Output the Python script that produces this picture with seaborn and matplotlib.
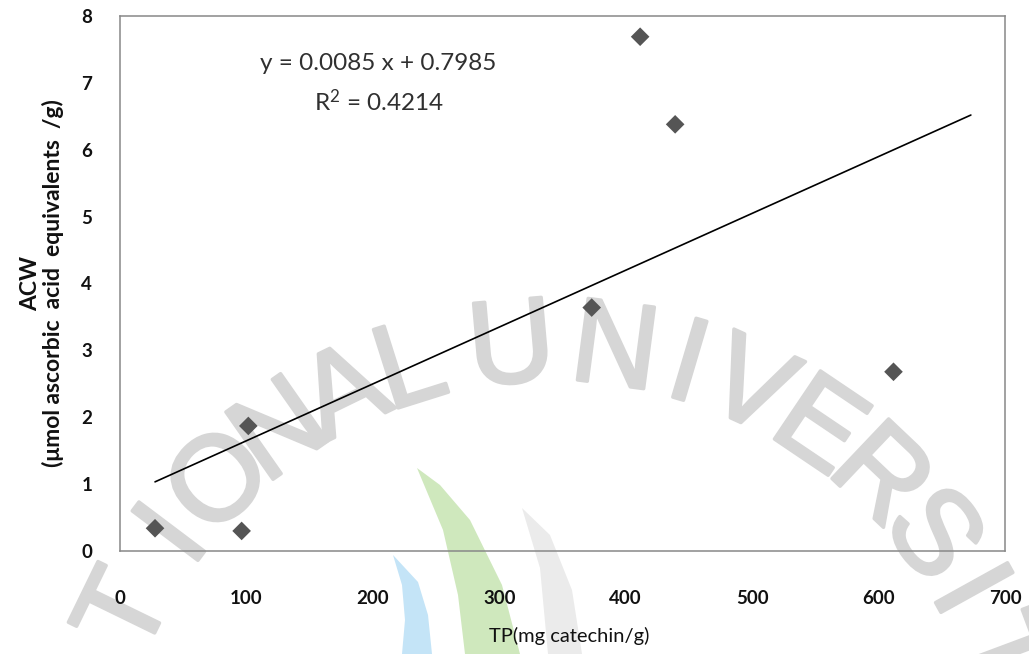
import numpy as np
import pandas as pd
import matplotlib
matplotlib.use("Agg")
import matplotlib.pyplot as plt
from matplotlib.patches import Polygon
import matplotlib.patheffects as pe
import seaborn as sns

# Measured samples
tp = [27.7, 96.2, 101.5, 373.1, 411.4, 439.1, 611.8]       # mg catechin / g
acw = [0.34, 0.30, 1.87, 3.64, 7.69, 6.38, 2.68]           # umol ascorbic acid eq. / g

# Linear trendline
slope = 0.0085
intercept = 0.7985
r_squared = 0.4214
trend_end = 673

x_ticks = [0, 100, 200, 300, 400, 500, 600, 700]
y_ticks = [0, 1, 2, 3, 4, 5, 6, 7, 8]

sns.set_theme(style="white")
plt.rcParams["font.family"] = ["Lato", "DejaVu Sans"]
plt.rcParams["mathtext.fontset"] = "custom"
plt.rcParams["mathtext.rm"] = "Lato"
plt.rcParams["mathtext.default"] = "regular"

W, H = 1029, 654
fig = plt.figure(figsize=(W / 100, H / 100), dpi=100)
fig.patch.set_facecolor("white")

# Background seal: arched lettering and leaf emblem
wm_letters = list("ATIONALUNIVERSIT")
wm_angles = [-75, -64, -53, -44.5, -35, -26, -17.5, -5, 7.5, 16.5, 24.5, 34, 43.5, 53, 61, 69.5]
cx, cy, rad = 553, 821, 471
wm_color = "#d6d6d6"
for ch, a in zip(wm_letters, wm_angles):
    t = np.deg2rad(a)
    px = cx + rad * np.sin(t)
    py = cy - rad * np.cos(t)
    fig.text(px / W, 1 - py / H, ch, fontsize=86, family="Liberation Sans",
             color=wm_color, ha="center", va="center", rotation=-a,
             rotation_mode="anchor", zorder=-3,
             path_effects=[pe.withStroke(linewidth=2.5, foreground=wm_color)])

leaves = {
    "#c4e4f7": [(393, 555), (402, 585), (405, 620), (402, 654), (432, 654), (428, 615), (418, 582)],
    "#cfe8bd": [(417, 468), (443, 530), (458, 595), (465, 654), (520, 654), (502, 585), (470, 520), (440, 485)],
    "#ebebeb": [(522, 508), (540, 568), (548, 654), (582, 654), (572, 590), (550, 535)],
}
for col, pts in leaves.items():
    poly = Polygon([(x / W, 1 - y / H) for x, y in pts], closed=True,
                   transform=fig.transFigure, facecolor=col, edgecolor="none", zorder=-4)
    fig.patches.append(poly)

ax = fig.add_axes([120 / W, 1 - 551 / H, 885 / W, 535 / H])
ax.set_facecolor("none")

df = pd.DataFrame({"TP": tp, "ACW": acw})
sns.scatterplot(data=df, x="TP", y="ACW", marker="D", s=90, color="#555555",
                edgecolor="none", ax=ax, zorder=3)

fit_x = np.linspace(min(tp), trend_end, 50)
fit = pd.DataFrame({"x": fit_x, "y": slope * fit_x + intercept})
sns.lineplot(data=fit, x="x", y="y", color="black", linewidth=1.2, ax=ax, zorder=2)

ax.set_xlim(x_ticks[0], x_ticks[-1])
ax.set_ylim(y_ticks[0], y_ticks[-1])
ax.set_xticks(x_ticks)
ax.set_yticks(y_ticks)
ax.tick_params(axis="both", direction="in", length=6.5, width=1, color="#888888",
               labelsize=13.5, labelcolor="#111111")
ax.tick_params(axis="x", pad=28)
ax.tick_params(axis="y", pad=20)
for lab in ax.get_xticklabels() + ax.get_yticklabels():
    lab.set_fontweight("bold")

for sp in ax.spines.values():
    sp.set_color("#888888")
    sp.set_linewidth(1.1)
    sp.set_visible(True)

ax.set_xlabel("TP(mg catechin/g)", fontsize=14.5, color="#111111")
ax.xaxis.set_label_coords(0.508, -0.142)
ax.set_ylabel("ACW\n(μmol ascorbic  acid  equivalents  /g)", fontsize=16.5,
              fontweight="bold", color="#111111", linespacing=1.05)
ax.yaxis.set_label_coords(-0.063, 0.5)

ax.text(0.2915, 0.912, f"y = {slope:.4f} x + {intercept:.4f}", transform=ax.transAxes,
        ha="center", va="center", fontsize=17.5, color="#303030")
ax.text(0.2927, 0.839, f"R$^{{2}}$ = {r_squared:.4f}", transform=ax.transAxes,
        ha="center", va="center", fontsize=17.5, color="#303030")

fig.savefig("out.png", dpi=100)
